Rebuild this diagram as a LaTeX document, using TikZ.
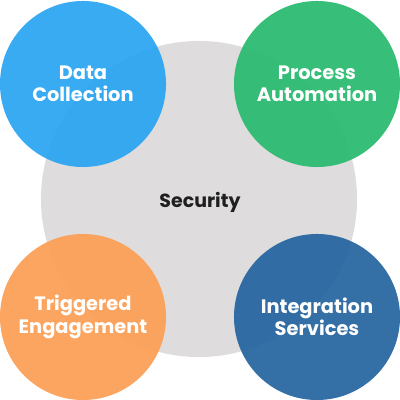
\documentclass[tikz,border=0pt]{standalone}
\usepackage{fontspec}
\setmainfont{Poppins}
\usetikzlibrary{calc}

\definecolor{bubbleblue}{HTML}{2DA6F1}
\definecolor{bubblegreen}{HTML}{2CBB72}
\definecolor{bubbleorange}{HTML}{FCA058}
\definecolor{bubblenavy}{HTML}{2967A1}
\definecolor{coregrey}{HTML}{DEDCDD}
\definecolor{coretext}{HTML}{1F1F1F}

\begin{document}
\begin{tikzpicture}[
            x=0.025cm, y=-0.025cm,
            core/.style={circle, fill=coregrey, draw=none, text=coretext, minimum size=7.9cm, font=\bfseries\fontsize{13.5}{16}\selectfont},
            bubble/.style={circle, draw=none, fill opacity=0.95, text opacity=1, text=white, minimum size=4.15cm, align=center, font=\bfseries\fontsize{13.8}{16}\selectfont},
            label/.style={draw=none, text=coretext, font=\bfseries\fontsize{13.5}{16}\selectfont},
        ]
            \useasboundingbox (0, 0) rectangle (400, 400);
            %% centre
            \node[core] at (199, 199) (security) {};
            \node[label] at (200, 202) (security-text) {Security};
            %% services
            \node[bubble, fill=bubbleblue] at (83, 84) (data) {Data\\Collection};
            \node[bubble, fill=bubblegreen] at (317, 84) (process) {Process\\Automation};
            \node[bubble, fill=bubbleorange] at (83, 317) (triggered) {Triggered\\Engagement};
            \node[bubble, fill=bubblenavy] at (317, 317) (integration) {Integration\\Services};

        \end{tikzpicture}
\end{document}
